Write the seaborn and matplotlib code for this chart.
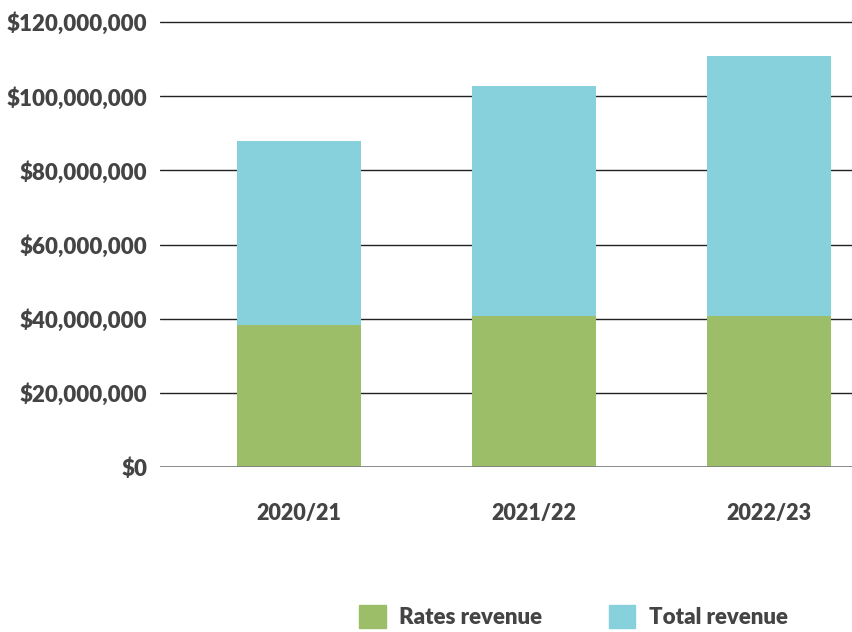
import matplotlib
matplotlib.use("Agg")
import matplotlib.pyplot as plt
import matplotlib.ticker as mticker
from matplotlib.patches import Patch
import pandas as pd
import seaborn as sns

# data
years = ["2020/21", "2021/22", "2022/23"]
rates_revenue = [38_300_000, 40_700_000, 40_700_000]
total_revenue = [87_900_000, 102_600_000, 110_700_000]
y_ticks = [0, 20_000_000, 40_000_000, 60_000_000, 80_000_000, 100_000_000, 120_000_000]

green = "#9dbe69"
teal = "#86d1db"
text_col = "#444444"

sns.set_style("white")
plt.rcParams["font.family"] = ["Lato", "DejaVu Sans"]

df = pd.DataFrame({"year": years, "rates": rates_revenue, "total": total_revenue})

fig = plt.figure(figsize=(8.53, 6.32), dpi=100)
ax = fig.add_axes([0.1876, 0.261, 0.8124, 0.716])

# total revenue drawn behind, rates revenue in front
sns.barplot(data=df, x="year", y="total", color=teal, width=0.53, saturation=1,
            linewidth=0, ax=ax, zorder=3)
sns.barplot(data=df, x="year", y="rates", color=green, width=0.53, saturation=1,
            linewidth=0, ax=ax, zorder=4)

ax.set_xlim(-0.591, 2.357)
ax.set_ylim(0, 122_000_000)
ax.set_yticks(y_ticks)
ax.yaxis.set_major_formatter(mticker.FuncFormatter(lambda v, p: f"${v:,.0f}"))

for t in y_ticks[1:]:
    ax.axhline(t, color="#222222", lw=1.0, zorder=2)
ax.axhline(0, color="#808080", lw=2.0, zorder=5)

for s in ax.spines.values():
    s.set_visible(False)

ax.set_xlabel("")
ax.set_ylabel("")
ax.tick_params(axis="y", length=0, pad=9, labelsize=16, labelcolor=text_col)
ax.tick_params(axis="x", length=0, pad=26, labelsize=15.5, labelcolor=text_col)
for lab in ax.get_xticklabels() + ax.get_yticklabels():
    lab.set_fontweight("heavy")

handles = [Patch(color=green, label="Rates revenue"), Patch(color=teal, label="Total revenue")]
fig.legend(handles=handles, loc="center", bbox_to_anchor=(0.672, 0.024), ncol=2, frameon=False,
           handlelength=1.2, handleheight=1.2, handletextpad=0.6, columnspacing=3.0,
           prop={"weight": "heavy", "size": 16}, labelcolor=text_col)

fig.savefig("out.png", dpi=100)
